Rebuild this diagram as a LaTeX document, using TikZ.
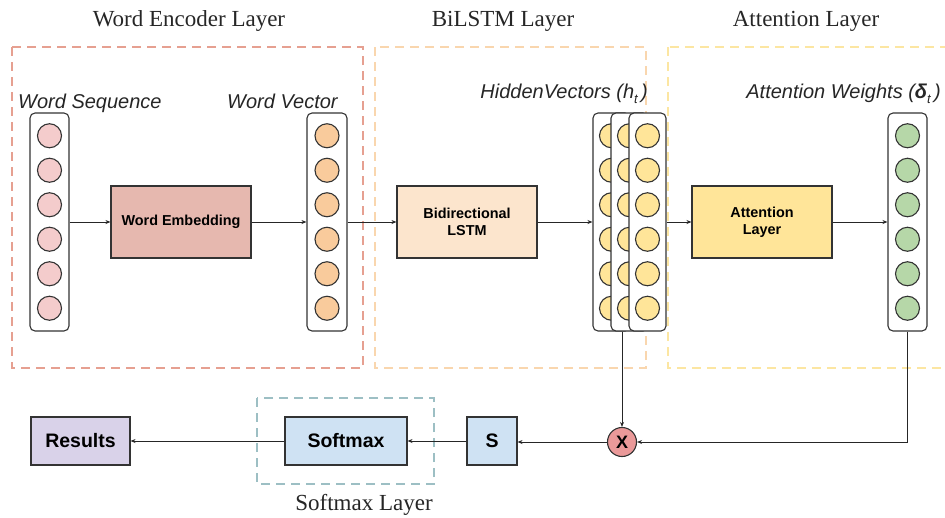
\documentclass[tikz,border=0pt]{standalone}
\usepackage{fontspec}
\setmainfont{Liberation Serif}
\setsansfont{Liberation Sans}
\usetikzlibrary{arrows.meta}

\definecolor{pinkN}{HTML}{F4CCCC}
\definecolor{orangeN}{HTML}{F9CB9C}
\definecolor{yellowN}{HTML}{FFE599}
\definecolor{greenN}{HTML}{B6D7A8}
\definecolor{embF}{HTML}{E6B8AF}
\definecolor{lstmF}{HTML}{FCE5CD}
\definecolor{attF}{HTML}{FFE599}
\definecolor{blueF}{HTML}{CFE2F3}
\definecolor{purpF}{HTML}{D9D2E9}
\definecolor{mulF}{HTML}{EA9999}
\definecolor{redD}{HTML}{E6A091}
\definecolor{orangeD}{HTML}{F9D6AE}
\definecolor{yellowD}{HTML}{FCE6A2}
\definecolor{tealD}{HTML}{9DBFC4}
\definecolor{ink}{HTML}{333333}

\begin{document}
\begin{tikzpicture}[x=1pt,y=-1pt,
  title/.style={font=\fontsize{23}{26}\selectfont, text=black!85},
  caption/.style={font=\sffamily\itshape\fontsize{20}{22}\selectfont, text=black!85, inner sep=0pt},
  layerbox/.style={line width=2.2pt, dash pattern=on 9pt off 6pt},
  colbox/.style={draw=ink, line width=1.1pt, rounded corners=5pt, fill=white,
                 minimum height=218pt, inner sep=0pt},
  neuron/.style={circle, draw=ink, line width=1.1pt, minimum size=24pt, inner sep=0pt},
  block/.style={draw=ink, line width=1.1pt, align=center, inner sep=0pt,
                font=\sffamily\bfseries\fontsize{14.4}{17}\selectfont},
  bigblock/.style={block, minimum height=48pt, font=\sffamily\bfseries\fontsize{19.5}{22}\selectfont},
  link/.style={-{Stealth[length=5pt,width=4pt]}, line width=0.9pt, draw=black!85}
]
\useasboundingbox (0,0) rectangle (945,517);

% layer frames (the attention frame runs past the right edge of the page)
\begin{scope}
\clip (0,0) rectangle (945,517);
\draw[layerbox, draw=redD]    (12,47)  rectangle (363,368);
\draw[layerbox, draw=orangeD] (375,47) rectangle (646,368);
\draw[layerbox, draw=yellowD] (668,47) rectangle (960,368);
\draw[layerbox, draw=tealD]   (257,398) rectangle (434,484);
\end{scope}

% layer titles
\node[title] (tEnc)  at (189,21)  {Word Encoder Layer};
\node[title] (tLstm) at (503,21)  {BiLSTM Layer};
\node[title] (tAtt)  at (806,21)  {Attention Layer};
\node[title] (tSoft) at (364,505) {Softmax Layer};

% vector columns
\newcommand{\neurons}[3]{%
  \foreach \i in {0,...,5}
    \node[neuron, fill=#3] (#1n\i) at (#2,{222+(\i-2.5)*34.5}) {};}

\node[colbox, minimum width=39pt] (ws) at (49.5,222) {};
\neurons{ws}{49.5}{pinkN}
\node[colbox, minimum width=40pt] (wv) at (327,222) {};
\neurons{wv}{327}{orangeN}

\node[colbox, minimum width=37pt] (h1) at (611.5,222) {};
\neurons{h1}{611.5}{yellowN}
\node[colbox, minimum width=37pt] (h2) at (629.5,222) {};
\neurons{h2}{629.5}{yellowN}
\node[colbox, minimum width=37pt] (h3) at (647.5,222) {};
\neurons{h3}{647.5}{yellowN}

\node[colbox, minimum width=39pt] (aw) at (907.5,222) {};
\neurons{aw}{907.5}{greenN}

% column captions
\node[caption, anchor=base west] (cWs) at (18,108)  {Word Sequence};
\node[caption, anchor=base west] (cWv) at (227,108) {Word Vector};
\node[caption, anchor=base east] (cH)  at (648,98)
  {HiddenVectors (h\raisebox{-5pt}{\fontsize{13}{13}\selectfont t}\,)};
\node[caption, anchor=base east] (cA)  at (941,98)
  {Attention Weights ({\bfseries δ}\raisebox{-5pt}{\fontsize{13}{13}\selectfont t}\,)};

% processing blocks
\node[block, fill=embF,  minimum width=140pt, minimum height=72pt] (emb)  at (181,222) {Word Embedding};
\node[block, fill=lstmF, minimum width=140pt, minimum height=72pt] (lstm) at (467,222) {Bidirectional\\LSTM};
\node[block, fill=attF,  minimum width=140pt, minimum height=72pt] (att)  at (762,222) {Attention\\Layer};

\node[bigblock, fill=purpF, minimum width=99pt]  (res)  at (80.5,441) {Results};
\node[bigblock, fill=blueF, minimum width=122pt] (soft) at (346,441)  {Softmax};
\node[bigblock, fill=blueF, minimum width=50pt]  (sum)  at (492,441)  {S};
\node[circle, draw=ink, line width=1.1pt, fill=mulF, minimum size=29pt, inner sep=0pt,
      font=\sffamily\bfseries\fontsize{18}{18}\selectfont] (mul) at (622,442) {X};

% connectors
\draw[link] (ws.east)   -- (emb.west);
\draw[link] (emb.east)  -- (wv.west);
\draw[link] (wv.east)   -- (lstm.west);
\draw[link] (lstm.east) -- (h1.west);
\draw[link] (h3.east)   -- (att.west);
\draw[link] (att.east)  -- (aw.west);
\draw[link] (mul.north |- h1.south) -- (mul.north);
\draw[link] (aw.south) |- (mul.east);
\draw[link] (mul.west)  -- (sum.east |- mul.west);
\draw[link] (sum.west)  -- (soft.east);
\draw[link] (soft.west) -- (res.east);
\end{tikzpicture}
\end{document}
